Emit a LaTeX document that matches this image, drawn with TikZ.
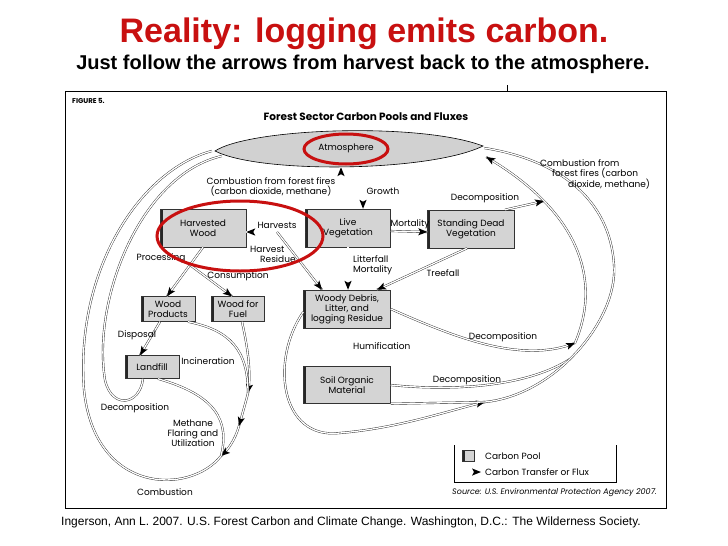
\documentclass[tikz,border=0pt]{standalone}
\usepackage{fontspec}
\setmainfont{Liberation Sans}
\newfontfamily\figfont{Poppins}
\usetikzlibrary{positioning}
\usetikzlibrary{arrows.meta}
\usetikzlibrary{shapes.geometric}
\usetikzlibrary{decorations.markings}
\definecolor{slidered}{RGB}{200,16,16}
\definecolor{poolgray}{RGB}{212,212,212}

\begin{document}
\begin{tikzpicture}[x=1pt,y=-1pt,
  pool/.style={rectangle,draw=black!80,fill=poolgray,line width=0.5pt,inner sep=1pt,align=center,
    font=\figfont\fontsize{9}{10}\selectfont,
    path picture={\fill[black!85] (path picture bounding box.north west) rectangle ([xshift=2.6pt]path picture bounding box.south west);}},
  link/.style={draw=black!85,line width=0.4pt,double=white,double distance=1.3pt},
  flux/.style={link,postaction={decorate,decoration={markings,mark=at position 1 with {\fill[black] (0pt,0pt) -- (-9pt,3.6pt) -- (-7pt,0pt) -- (-9pt,-3.6pt) -- cycle;}}}},
  lbl/.style={font=\figfont\fontsize{9}{10}\selectfont,inner sep=0pt,align=center},
  redring/.style={draw=slidered,line width=3pt}]
  \useasboundingbox[fill=white] (0,0) rectangle (728,546);
  \node[font=\bfseries\fontsize{34}{36}\selectfont,text=slidered] (title) at (364,34) {Reality: logging emits carbon.};
  \node[font=\bfseries\fontsize{20}{22}\selectfont] (subtitle) at (363,64) {Just follow the arrows from harvest back to the atmosphere.};
  \node[font=\fontsize{12}{14}\selectfont,anchor=west,inner sep=0pt] (credit) at (61,522) {Ingerson, Ann L. 2007. U.S. Forest Carbon and Climate Change. Washington, D.C.: The Wilderness Society.};
  %
  \draw[line width=0.8pt] (65,91) rectangle (666,508);
  \draw (507,85) -- (507,91);
  \node[font=\figfont\bfseries\fontsize{7}{8}\selectfont,anchor=west,inner sep=0pt] (figno) at (72,101) {FIGURE 5.};
  \node[font=\figfont\bfseries\fontsize{10.5}{12}\selectfont] (heading) at (366,117) {Forest Sector Carbon Pools and Fluxes};
  %
  \filldraw[fill=black!18,draw=black,line width=0.6pt] (215,151) .. controls (250,128) and (420,122) .. (483,146) .. controls (430,172) and (260,174) .. (215,151) -- cycle;
  \node[ellipse,minimum width=268pt,minimum height=38pt,inner sep=0pt,lbl] (atm) at (346,148) {Atmosphere};
  %
  \node[pool,minimum width=86pt,minimum height=38pt] (hwood)    at (203,228) {Harvested\\Wood};
  \node[pool,minimum width=85pt,minimum height=38pt] (live)     at (348,228) {Live\\Vegetation};
  \node[pool,minimum width=87pt,minimum height=38pt] (sdead)    at (471,229) {Standing Dead\\Vegetation};
  \node[pool,minimum width=54pt,minimum height=25pt] (wprod)    at (168,309) {Wood\\Products};
  \node[pool,minimum width=53pt,minimum height=25pt] (wfuel)    at (238,309) {Wood for\\Fuel};
  \node[pool,minimum width=87pt,minimum height=38pt] (debris)   at (347,309) {Woody Debris,\\Litter, and\\logging Residue};
  \node[pool,minimum width=54pt,minimum height=23pt] (landfill) at (152,367) {Landfill};
  \node[pool,minimum width=87pt,minimum height=37pt] (soil)     at (347,385) {Soil Organic\\Material};
  %
  \coordinate (resbranch) at (277,232);
  \coordinate (consbranch) at (190,265);
  \coordinate (burn1) at (248,393);
  \coordinate (burn2) at (239,426);
  \coordinate (burn3) at (221,456);
  \coordinate (rotA) at (575,343);
  \coordinate (rotB) at (485,402);
  \coordinate (sdjoin) at (544,201);
  \coordinate (soiljoin) at (570,359);
  %
  \draw[flux] ([xshift=17pt]atm.south) -- ([xshift=15pt]live.north);
  \draw[flux] ([xshift=-7pt]live.north) -- ([xshift=-5pt]atm.south);
  \draw[flux] ([yshift=-4pt]live.west) -- ([yshift=-4pt]hwood.east);
  \draw[flux] (resbranch) -- ([xshift=-25pt]debris.north);
  \draw[flux] ([yshift=-3pt]live.east) -- ([yshift=-3pt]sdead.west);
  \draw[flux] (live.south) -- (live.south |- debris.north);
  \draw[flux] ([xshift=-4pt]sdead.south) -- ([xshift=30pt]debris.north);
  \draw[flux] ([xshift=34pt]sdead.north) -- (sdjoin);
  \draw[flux] (hwood.south) -- ([xshift=-1pt]wprod.north);
  \draw[flux] (consbranch) -- ([xshift=-6pt]wfuel.north);
  \draw[flux] ([xshift=-8pt]wprod.south) -- ([xshift=-12pt]landfill.north);
  \draw[flux] ([xshift=4pt]wfuel.south) .. controls (246,340) and (252,370) .. (burn1);
  \draw[flux] ([xshift=20pt]wprod.south) .. controls (230,330) and (248,350) .. (burn1);
  \draw[flux] (burn1) .. controls (245,405) and (242,415) .. (burn2);
  \draw[flux] (burn2) .. controls (235,440) and (228,450) .. (burn3);
  \draw[flux] ([xshift=6pt]landfill.south) .. controls (215,395) and (230,420) .. (burn3);
  \draw[flux] (burn3) .. controls (190,495) and (95,495) .. (84,390) .. controls (75,270) and (140,170) .. ([yshift=-3pt]atm.west);
  \draw[flux] ([xshift=-9pt]landfill.south) .. controls (140,405) and (112,410) .. (105,380) .. controls (92,300) and (140,175) .. ([xshift=10pt,yshift=-8pt]atm.west);
  \draw[flux] (debris.east) .. controls (450,335) and (520,365) .. (rotA);
  \draw[flux] (rotA) .. controls (600,285) and (585,215) .. ([xshift=6pt,yshift=-9pt]atm.east);
  \draw[flux] ([yshift=-3pt]debris.west) .. controls (270,360) and (280,440) .. (340,433) .. controls (400,428) and (450,410) .. (rotB);
  \draw[link] (soil.south east) -- (rotB);
  \draw[link] (soil.east) .. controls (460,392) and (530,385) .. (soiljoin);
  \draw[flux] (rotB) .. controls (555,395) and (618,320) .. (614,265) .. controls (610,200) and (560,160) .. ([xshift=4pt]atm.east);
  %
  \node[lbl] (growthlbl) at (383,191) {Growth};
  \node[lbl] (firelbl) at (271,187) {Combustion from forest fires\\(carbon dioxide, methane)};
  \node[lbl] (harvlbl) at (277,225) {Harvests};
  \node[lbl,anchor=west,align=left] (reslbl) at (250,254) {Harvest\\\hspace*{10pt}Residue};
  \node[lbl] (mortlbl) at (410,224) {Mortality};
  \node[lbl,anchor=west,align=left] (litterlbl) at (353,265) {Litterfall\\Mortality};
  \node[lbl] (treelbl) at (443,273) {Treefall};
  \node[lbl] (proclbl) at (161,258) {Processing};
  \node[lbl] (conslbl) at (238,276) {Consumption};
  \node[lbl] (displbl) at (137,335) {Disposal};
  \node[lbl] (incinlbl) at (208,361) {Incineration};
  \node[lbl] (lfdecaylbl) at (135,408) {Decomposition};
  \node[lbl] (methlbl) at (193,433) {Methane\\Flaring and\\Utilization};
  \node[lbl] (comblbl) at (165,492) {Combustion};
  \node[lbl,anchor=west] (humlbl) at (353,346) {Humification};
  \node[lbl] (sddecaylbl) at (485,198) {Decomposition};
  \node[lbl] (wddecaylbl) at (503,337) {Decomposition};
  \node[lbl] (sodecaylbl) at (467,380) {Decomposition};
  \node[lbl,anchor=west,align=left] (rfirelbl) at (540,174) {Combustion from\\\hspace*{12pt}forest fires (carbon\\\hspace*{28pt}dioxide, methane)};
  %
  \draw[line width=0.6pt] (454,445) |- (616,482) -- (616,445);
  \node[pool,minimum width=12pt,minimum height=11pt] (legpool) at (468,456) {};
  \node[lbl,anchor=west] (legpooltxt) at (485,456) {Carbon Pool};
  \coordinate (legS) at (458,472);
  \coordinate (legE) at (481,472);
  \draw[flux] (legS) -- (legE);
  \node[lbl,anchor=west] (legfluxtxt) at (485,472) {Carbon Transfer or Flux};
  \node[lbl,font=\figfont\itshape\fontsize{8}{9}\selectfont,anchor=east] (source) at (657,493) {Source: U.S. Environmental Protection Agency 2007.};
  %
  \draw[redring] (346,149) ellipse [x radius=42pt,y radius=15pt];
  \draw[redring] (240,236) ellipse [x radius=83pt,y radius=35pt];
\end{tikzpicture}
\end{document}
